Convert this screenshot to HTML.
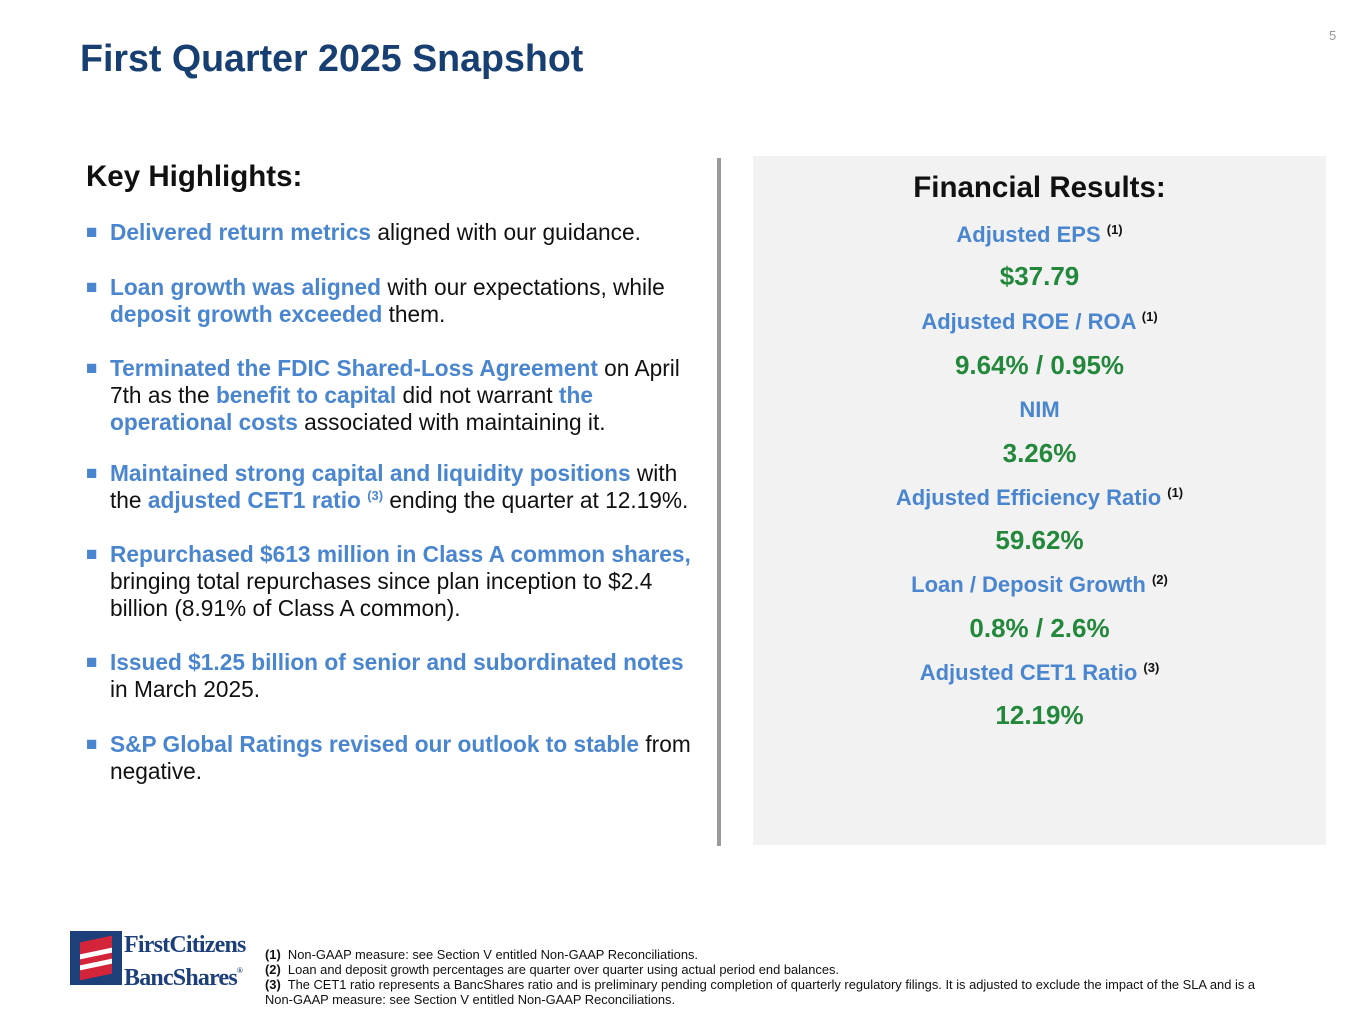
<!DOCTYPE html>
<html><head><meta charset="utf-8">
<style>
body{margin:0;width:1365px;height:1024px;background:#fff;font-family:"Liberation Sans",Arial,sans-serif;position:relative;overflow:hidden}
.a{position:absolute;white-space:nowrap}
.t{left:80px;top:37px;font-size:37.6px;font-weight:bold;color:#173f72}
.pn{left:1329px;top:28px;font-size:13px;color:#999}
.kh{left:86px;top:160px;font-size:29.5px;font-weight:bold;color:#111}
.b{position:absolute;left:86px;font-size:22.7px;line-height:27px;color:#111;width:630px}
.b .sq{position:absolute;left:0;top:0;font-size:19px;color:#4a86d0}
.b .tx{margin-left:24px;display:block}
.h{color:#4a86d0;font-weight:bold}
sup{font-size:13px;vertical-align:8px;line-height:0}
.div{left:717px;top:158px;width:4px;height:688px;background:#9a9a9a}
.panel{left:753px;top:156px;width:573px;height:689px;background:#f2f2f2}
.c{position:absolute;left:753px;width:573px;text-align:center;font-weight:bold}
.lab{font-size:22px;color:#4a86d0}
.lab sup{color:#111}
.val{font-size:26px;color:#23883c}
.fn{left:265px;top:947px;font-size:12.9px;line-height:15px;color:#111}
</style></head><body>
<div class="a t">First Quarter 2025 Snapshot</div>
<div class="a pn">5</div>
<div class="a kh">Key Highlights:</div>

<div class="b" style="top:219px"><span class="sq">■</span><span class="tx"><span class="h">Delivered return metrics</span> aligned with our guidance.</span></div>
<div class="b" style="top:274px"><span class="sq">■</span><span class="tx"><span class="h">Loan growth was aligned</span> with our expectations, while<br><span class="h">deposit growth exceeded</span> them.</span></div>
<div class="b" style="top:355px"><span class="sq">■</span><span class="tx"><span class="h">Terminated the FDIC Shared-Loss Agreement</span> on April<br>7th as the <span class="h">benefit to capital</span> did not warrant <span class="h">the</span><br><span class="h">operational costs</span> associated with maintaining it.</span></div>
<div class="b" style="top:460px"><span class="sq">■</span><span class="tx"><span class="h">Maintained strong capital and liquidity positions</span> with<br>the <span class="h">adjusted CET1 ratio <sup>(3)</sup></span> ending the quarter at 12.19%.</span></div>
<div class="b" style="top:541px"><span class="sq">■</span><span class="tx"><span class="h">Repurchased $613 million in Class A common shares,</span><br>bringing total repurchases since plan inception to $2.4<br>billion (8.91% of Class A common).</span></div>
<div class="b" style="top:649px"><span class="sq">■</span><span class="tx"><span class="h">Issued $1.25 billion of senior and subordinated notes</span><br>in March 2025.</span></div>
<div class="b" style="top:731px"><span class="sq">■</span><span class="tx"><span class="h">S&amp;P Global Ratings revised our outlook to stable</span> from<br>negative.</span></div>

<div class="a div"></div>
<div class="a panel"></div>
<div class="c" style="top:171px;font-size:29.5px;color:#111">Financial Results:</div>
<div class="c lab" style="top:222px">Adjusted EPS <sup>(1)</sup></div>
<div class="c val" style="top:261px">$37.79</div>
<div class="c lab" style="top:309px">Adjusted ROE / ROA <sup>(1)</sup></div>
<div class="c val" style="top:350px">9.64% / 0.95%</div>
<div class="c lab" style="top:397px">NIM</div>
<div class="c val" style="top:438px">3.26%</div>
<div class="c lab" style="top:485px">Adjusted Efficiency Ratio <sup>(1)</sup></div>
<div class="c val" style="top:525px">59.62%</div>
<div class="c lab" style="top:572px">Loan / Deposit Growth <sup>(2)</sup></div>
<div class="c val" style="top:613px">0.8% / 2.6%</div>
<div class="c lab" style="top:660px">Adjusted CET1 Ratio <sup>(3)</sup></div>
<div class="c val" style="top:700px">12.19%</div>

<div class="a" style="left:70px;top:931px;width:52px;height:54px;background:#1d3f7a">
<div style="position:absolute;left:10px;top:8px;width:32px;height:38px;background:#d3243a;transform:skewY(-12deg)"></div>
<div style="position:absolute;left:10px;top:20px;width:32px;height:5px;background:#fff;transform:skewY(-12deg)"></div>
<div style="position:absolute;left:10px;top:31px;width:32px;height:5px;background:#fff;transform:skewY(-12deg)"></div>
</div>
<div class="a" style="left:124px;top:933px;font-family:'Liberation Serif',serif;font-size:24px;line-height:25px;color:#1d3f7a;font-weight:bold;letter-spacing:-0.8px">FirstCitizens<br>BancShares<span style="font-size:8px;vertical-align:12px">®</span></div>

<div class="a fn"><b>(1)</b>&nbsp; Non-GAAP measure: see Section V entitled Non-GAAP Reconciliations.<br><b>(2)</b>&nbsp; Loan and deposit growth percentages are quarter over quarter using actual period end balances.<br><b>(3)</b>&nbsp; The CET1 ratio represents a BancShares ratio and is preliminary pending completion of quarterly regulatory filings. It is adjusted to exclude the impact of the SLA and is a<br>Non-GAAP measure: see Section V entitled Non-GAAP Reconciliations.</div>
</body></html>
